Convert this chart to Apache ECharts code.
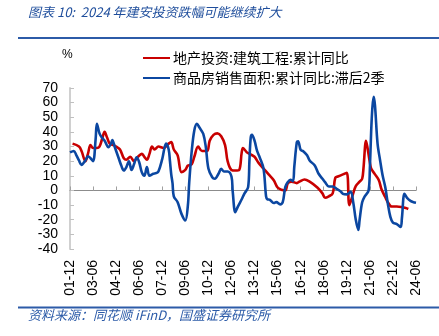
<!DOCTYPE html>
<html><head><meta charset="utf-8">
<script src="https://cdn.jsdelivr.net/npm/echarts@6/dist/echarts.min.js"></script>
<style>html,body{margin:0;padding:0;background:#fff}#c{width:439px;height:336px}</style>
</head><body><div id="c"></div>
<script>
const titleText = '图表 10:  2024 年建安投资跌幅可能继续扩大';
const sourceText = '资料来源：同花顺 iFinD，国盛证券研究所';
const seriesNames = ['地产投资:建筑工程:累计同比', '商品房销售面积:累计同比:滞后2季'];
const startDate = '2001-12';
const endDate = '2024-06';
const yTicks = [-40, -30, -20, -10, 0, 10, 20, 30, 40, 50, 60, 70];

const redDates = ['2002-02','2002-07','2002-09','2002-12','2003-02','2003-04','2003-06','2003-09','2003-11','2004-01','2004-03','2004-05','2004-07','2004-10','2004-12','2005-03','2005-06','2005-08','2005-11','2006-02','2006-05','2006-08','2006-10','2006-12','2007-02','2007-04','2007-06','2007-09','2008-01','2008-05','2008-07','2008-09','2008-12','2009-03','2009-06','2009-08','2009-11','2010-01','2010-04','2010-07','2010-11','2011-01','2011-04','2011-07','2011-10','2012-01','2012-03','2012-06','2012-09','2012-12','2013-02','2013-03','2013-06','2013-08','2013-12','2014-03','2014-07','2014-11','2015-03','2015-06','2015-09','2015-12','2016-02','2016-05','2016-09','2016-11','2017-03','2017-07','2018-01','2018-05','2018-07','2018-10','2019-01','2019-03','2019-05','2019-09','2019-12','2020-02','2020-05','2020-07','2020-10','2020-12','2021-01','2021-03','2021-04','2021-06','2021-07','2021-10','2022-01','2022-03','2022-06','2022-08','2022-11','2023-03','2023-07','2023-10','2023-12'];
const redValues = [32,30,27,20,25,31,29,29,30,35,40,36,32,31,30,28,22,21,23,20,23,25,23,21,25,30,28,30,29,32,33,28,24,12.5,14,17,18,23,30,27,27,34,38,39,37,31,20,14,13.6,14,26,29,26,25,23,19,15,11,7,2,0.5,0,5,6,5,6,7.5,6,2,-2,-5,-4,-2,8.6,9.5,11,12,-10,-2,3,6,8,15,34,30,19,15,11,7,1,-4.5,-8,-11,-11,-11.4,-12,-12.7];

const blueDates = ['2001-12','2002-03','2002-05','2002-07','2002-09','2002-12','2003-02','2003-04','2003-06','2003-08','2003-09','2003-11','2004-01','2004-03','2004-06','2004-08','2004-09','2004-11','2005-02','2005-04','2005-06','2005-08','2005-10','2005-11','2005-12','2006-02','2006-04','2006-06','2006-08','2006-10','2006-12','2007-02','2007-05','2007-07','2007-09','2007-12','2008-03','2008-05','2008-06','2008-07','2008-08','2008-09','2008-12','2009-03','2009-06','2009-08','2009-09','2009-11','2010-01','2010-03','2010-05','2010-08','2010-10','2010-12','2011-03','2011-05','2011-08','2011-10','2011-12','2012-03','2012-06','2012-07','2012-09','2012-11','2013-02','2013-04','2013-07','2013-08','2013-09','2013-10','2013-12','2014-02','2014-04','2014-07','2014-09','2014-10','2014-12','2015-03','2015-05','2015-08','2015-10','2015-12','2016-02','2016-04','2016-06','2016-07','2016-09','2016-10','2016-12','2017-02','2017-05','2017-07','2017-11','2018-02','2018-05','2018-07','2018-10','2019-01','2019-04','2019-07','2019-09','2019-12','2020-03','2020-05','2020-07','2020-09','2020-10','2020-12','2021-02','2021-05','2021-06','2021-07','2021-08','2021-09','2021-10','2021-12','2022-02','2022-04','2022-06','2022-08','2022-10','2022-12','2023-03','2023-06','2023-07','2023-09','2023-11','2024-02','2024-04','2024-06'];
const blueValues = [26,27,24,20.5,17.5,20.5,23.4,22,20,35,45.5,39,36,34,29.5,32,34.5,29.5,22,17,13.6,16,20,17,14,18,22.7,19.3,12.5,10,16,10,11.4,11.8,13,21.6,32,28,20,11,5,-4,-8,-16,-20.5,-10,5,27,41,45.5,43,38.6,29.5,15,9,8,11.6,14.8,13,13,9.5,-1,-14.8,-11,-6,-2.3,2.3,20,36,38,34,27,22.7,15,-4,-6,-6.4,-8.6,-8,-9.5,-8,2.3,5.7,7.3,6.4,16,33,33.6,27.7,26.8,24,20.5,17,11.4,8,5.7,2.7,2.7,1.1,-0.5,-2.3,-2.7,-1,-8,-20,-27,-20,-8,-4,0,15,40,57,64,58,32,20.5,10,2.3,-9,-18,-22,-23,-25,-19,-2.3,-5,-7.3,-8,-8.4];

function monthIndex(d) {
  const [y, m] = d.split('-').map(Number);
  const [y0, m0] = startDate.split('-').map(Number);
  return (y - y0) * 12 + (m - m0);
}
function monthLabel(idx) {
  const [y0, m0] = startDate.split('-').map(Number);
  const t = y0 * 12 + (m0 - 1) + Math.round(idx);
  const y = Math.floor(t / 12), m = t % 12 + 1;
  return String(y % 100).padStart(2, '0') + '-' + String(m).padStart(2, '0');
}
const xMax = monthIndex(endDate);
const redData = redDates.map((d, i) => [monthIndex(d), redValues[i]]);
const blueData = blueDates.map((d, i) => [monthIndex(d), blueValues[i]]);

const chart = echarts.init(document.getElementById('c'), null, {renderer: 'canvas'});
const RED = '#c80000', BLUE = '#0b47a1', RULE = '#2c5ba8';
chart.setOption({
  animation: false,
  backgroundColor: '#fff',
  grid: {left: 70, right: 23, top: 88, bottom: 87},
  legend: {
    orient: 'vertical', left: 138, top: 43, itemGap: 0,
    itemWidth: 27, itemHeight: 2, icon: 'rect',
    itemStyle: {borderWidth: 0},
    lineStyle: {width: 0},
    textStyle: {fontSize: 14, color: '#000', fontFamily: 'Noto Sans CJK SC', lineHeight: 20, padding: [0, 0, 0, -2]},
    data: seriesNames
  },
  xAxis: [{
    type: 'value', min: 0, max: xMax, interval: 18,
    axisLine: {show: false, onZero: false}, axisTick: {show: false}, splitLine: {show: false},
    axisLabel: {rotate: 90, margin: 11, fontSize: 14, color: '#000', fontFamily: 'Liberation Sans', formatter: v => monthLabel(v)}
  }, {
    type: 'value', min: 0, max: xMax, interval: 18, position: 'bottom',
    axisLine: {show: true, onZero: true, lineStyle: {color: '#8c8c8c', width: 1}},
    axisTick: {show: true, inside: true, length: 4, lineStyle: {color: '#a0a0a0'}},
    axisLabel: {show: false}, splitLine: {show: false}
  }],
  yAxis: {
    type: 'value', min: yTicks[0], max: yTicks[yTicks.length - 1], interval: 10,
    axisLine: {show: true, lineStyle: {color: '#d0d0d0', width: 2}},
    axisTick: {show: true, inside: true, length: 4, lineStyle: {color: '#c0c0c0'}},
    splitLine: {show: false},
    axisLabel: {fontSize: 14, color: '#000', fontFamily: 'Liberation Sans', margin: 12}
  },
  series: [{
    name: seriesNames[0], type: 'line', xAxisIndex: 0, data: redData,
    smooth: 0.35, showSymbol: false, symbol: 'none', color: RED,
    lineStyle: {color: RED, width: 2.6}, z: 2
  }, {
    name: seriesNames[1], type: 'line', xAxisIndex: 0, data: blueData,
    smooth: 0.35, showSymbol: false, symbol: 'none', color: BLUE,
    lineStyle: {color: BLUE, width: 2.6}, z: 3
  }],
  graphic: [
    {type: 'text', left: 28, top: 6, style: {text: titleText, font: 'italic 13px "Noto Sans CJK SC"', fill: '#1f4e9c'}},
    {type: 'line', shape: {x1: 18, y1: 38, x2: 439, y2: 38}, style: {stroke: RULE, lineWidth: 2}},
    {type: 'text', left: 62, top: 49, style: {text: '%', font: '12px "Liberation Sans"', fill: '#000'}},
    {type: 'line', shape: {x1: 18, y1: 307.5, x2: 439, y2: 307.5}, style: {stroke: RULE, lineWidth: 2}},
    {type: 'text', left: 28, top: 309, style: {text: sourceText, font: 'italic 13px "Noto Sans CJK SC"', fill: '#2c5ba8'}}
  ]
});
</script></body></html>
